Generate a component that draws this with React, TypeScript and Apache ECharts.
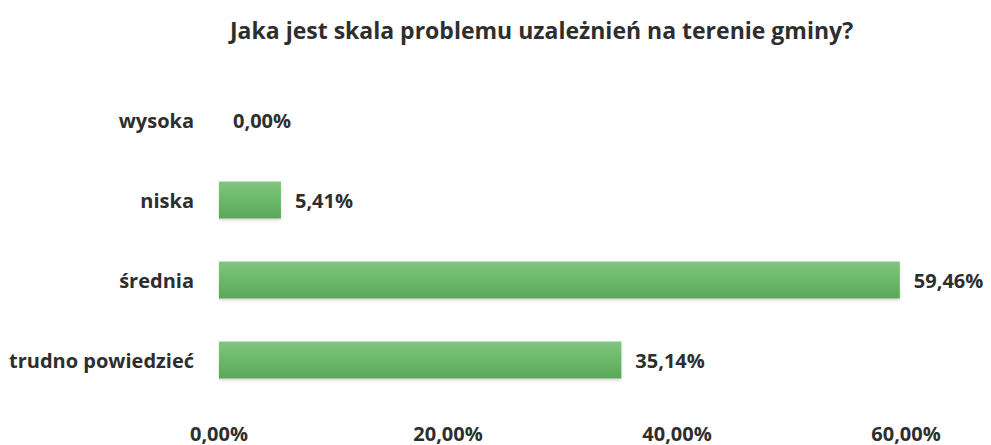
import React, { useEffect, useRef } from "react";
import * as echarts from "echarts";

const titleText = "Jaka jest skala problemu uzależnień na terenie gminy?";
const categories = ["trudno powiedzieć", "średnia", "niska", "wysoka"];
const values = [35.14, 59.46, 5.41, 0.0];
const xTicks = [0, 20, 40, 60];

const fmt = (v: number) => v.toFixed(2).replace(".", ",") + "%";

export default function App() {
  const ref = useRef<HTMLDivElement>(null);
  useEffect(() => {
    if (!ref.current) return;
    const chart = echarts.init(ref.current, null, { renderer: "svg" });
    const font = "'Open Sans', sans-serif";
    chart.setOption({
      animation: false,
      backgroundColor: "#ffffff",
      title: {
        text: titleText,
        left: 225,
        top: 13,
        textStyle: { fontFamily: font, fontWeight: "bold", fontSize: 23, color: "#2e2e2e" },
      },
      grid: { left: 219, right: 85, top: 80, bottom: 45, containLabel: false },
      xAxis: {
        type: "value",
        min: xTicks[0],
        max: xTicks[xTicks.length - 1],
        interval: 20,
        axisLine: { show: false },
        axisTick: { show: false },
        splitLine: { show: false },
        axisLabel: {
          margin: 23,
          fontFamily: font,
          fontWeight: "bold",
          fontSize: 20,
          color: "#2e2e2e",
          formatter: (v: number) => fmt(v),
        },
      },
      yAxis: {
        type: "category",
        data: categories,
        axisLine: { show: false },
        axisTick: { show: false },
        axisLabel: {
          margin: 25,
          fontFamily: font,
          fontWeight: "bold",
          fontSize: 20,
          color: "#2e2e2e",
        },
      },
      series: [
        {
          type: "bar",
          data: values,
          barWidth: 37,
          itemStyle: {
            color: new echarts.graphic.LinearGradient(0, 0, 0, 1, [
              { offset: 0, color: "#80c67c" },
              { offset: 0.5, color: "#6bb86a" },
              { offset: 1, color: "#5aa758" },
            ]),
            shadowColor: "rgba(0,0,0,0.15)",
            shadowBlur: 3,
            shadowOffsetY: 2,
          },
          label: {
            show: true,
            position: "right",
            distance: 14,
            fontFamily: font,
            fontWeight: "bold",
            fontSize: 20,
            color: "#2e2e2e",
            formatter: (p: any) => fmt(p.value),
          },
        },
      ],
    });
    return () => chart.dispose();
  }, []);
  return <div ref={ref} style={{ width: 991, height: 445, position: "absolute", left: 0, top: 0 }} />;
}
